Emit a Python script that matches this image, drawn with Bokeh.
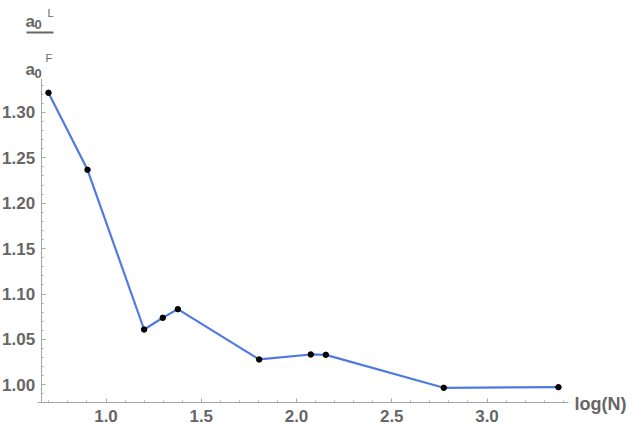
from bokeh.plotting import figure
from bokeh.models import FixedTicker, NumeralTickFormatter, Label, Range1d, BoxAnnotation
from bokeh.embed import file_html
from bokeh.resources import INLINE

# data
log_n = [0.698, 0.903, 1.200, 1.298, 1.377, 1.804, 2.075, 2.154, 2.773, 3.375]
ratio = [1.3216, 1.2368, 1.0609, 1.0738, 1.0833, 1.0279, 1.0334, 1.0330, 0.9967, 0.9974]
x_ticks = [1.0, 1.5, 2.0, 2.5, 3.0]
x_minor = [round(0.7 + 0.1 * i, 2) for i in range(28)]
y_ticks = [1.00, 1.05, 1.10, 1.15, 1.20, 1.25, 1.30]
y_minor = [round(0.99 + 0.01 * i, 2) for i in range(35)]

AX = "#a6a6a6"
TXT = "#666666"
FONT = "Liberation Sans"

W, H = 632, 431
# pixel <-> data mapping of the reference (x: 190.5 px per unit, y: 908 px per unit)
def dx(px):
    return 1 + (px - 105.5) / 190.5
def dy(py):
    return 1 + (384.3 - py) / 908.0

p = figure(width=W, height=H, output_backend="svg", toolbar_location=None,
           x_range=Range1d(dx(0), dx(W)), y_range=Range1d(dy(H), dy(0)),
           min_border=0, min_border_left=0, min_border_right=0,
           min_border_top=0, min_border_bottom=0)
p.outline_line_color = None
p.grid.visible = False
p.background_fill_color = "white"
p.border_fill_color = "white"

x_origin, y_origin = dx(40.7), dy(402)
p.xaxis.fixed_location = y_origin
p.yaxis.fixed_location = x_origin
p.xaxis.bounds = (dx(37), dx(568))
p.yaxis.bounds = (y_origin, dy(78))

p.xaxis.ticker = FixedTicker(ticks=x_ticks, minor_ticks=x_minor)
p.yaxis.ticker = FixedTicker(ticks=y_ticks, minor_ticks=y_minor)
p.xaxis.formatter = NumeralTickFormatter(format="0.0")
p.yaxis.formatter = NumeralTickFormatter(format="0.00")
for ax in (p.xaxis, p.yaxis):
    ax.axis_line_color = AX
    ax.major_tick_line_color = AX
    ax.minor_tick_line_color = AX
    ax.major_tick_in = 4
    ax.major_tick_out = 0
    ax.minor_tick_in = 2
    ax.minor_tick_out = 0
    ax.major_label_text_color = TXT
    ax.major_label_text_font = FONT
    ax.major_label_text_font_style = "bold"
    ax.major_label_text_font_size = "17px"
p.xaxis.major_label_standoff = 7
p.yaxis.major_label_standoff = 6

p.line(log_n, ratio, line_color="#5079E2", line_width=2.2)
p.scatter(log_n, ratio, size=5.5, color="black")

def lab(px, py, t, size, style="bold", baseline="alphabetic"):
    p.add_layout(Label(x=dx(px), y=dy(py), text=t,
                       text_font=FONT, text_font_style=style, text_font_size=size,
                       text_color=TXT, text_baseline=baseline))

lab(574, 403, "log(N)", "18px", baseline="middle")

lab(25, 21, "a", "17px")
lab(34, 24, "0", "13px")
lab(47, 12, "L", "11px", "normal")
lab(25, 69, "a", "17px")
lab(34, 73, "0", "13px")
lab(45, 57, "F", "11px", "normal")
p.add_layout(BoxAnnotation(left=dx(26), right=dx(53), bottom=dy(33), top=dy(31),
                           fill_color=TXT, fill_alpha=1, line_color=None))

open("out.html", "w").write(file_html(p, INLINE))
